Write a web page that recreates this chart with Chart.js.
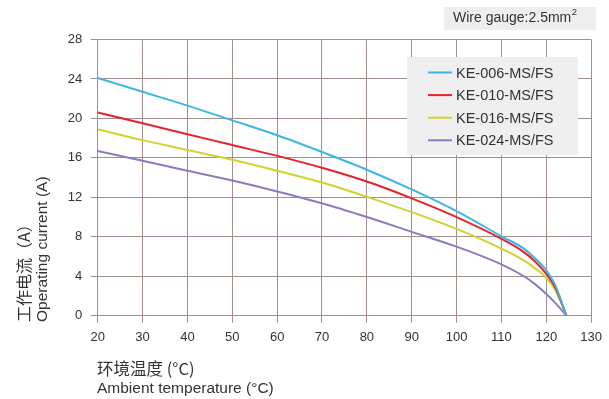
<!DOCTYPE html>
<html><head><meta charset="utf-8">
<script src="https://cdn.jsdelivr.net/npm/chart.js@4.4.0/dist/chart.umd.min.js"></script>
<style>html,body{margin:0;padding:0;background:#fff}#wrap{width:609px;height:399px;position:relative}</style>
</head><body><div id="wrap"><canvas id="c" width="609" height="399"></canvas></div>
<script>
const temps  = [20, 30, 40, 50, 60, 70, 80, 90, 100, 110, 115, 117.5, 120, 122, 124.5];
const ke006  = [24.1, 22.7, 21.3, 19.8, 18.3, 16.6, 14.8, 12.8, 10.6, 8.05, 6.8, 5.8, 4.6, 3.1, 0];
const ke010  = [20.6, 19.5, 18.4, 17.3, 16.2, 15.0, 13.6, 11.9, 10.0, 7.8, 6.45, 5.5, 4.25, 2.85, 0];
const ke016  = [18.9, 17.8, 16.8, 15.8, 14.7, 13.5, 12.05, 10.5, 8.8, 6.8, 5.6, 4.8, 3.85, 2.6, 0];
const ke024  = [16.7, 15.7, 14.7, 13.7, 12.6, 11.4, 10.0, 8.5, 7.0, 5.2, 4.0, 3.2, 2.2, 1.3, 0];
const seriesNames = ['KE-006-MS/FS', 'KE-010-MS/FS', 'KE-016-MS/FS', 'KE-024-MS/FS'];
const seriesColors = ['#3db6e6', '#e8222b', '#d2d22c', '#8a7cc2'];
const xTickLabels = [20, 30, 40, 50, 60, 70, 80, 90, 100, 110, 120, 130];
const yTickLabels = [0, 4, 8, 12, 16, 20, 24, 28];

const allSeries = [ke006, ke010, ke016, ke024];
const datasets = allSeries.map((vals, i) => ({
  label: seriesNames[i],
  data: temps.map((t, j) => ({x: t, y: vals[j]})),
  borderColor: seriesColors[i],
  backgroundColor: seriesColors[i],
  borderWidth: 2,
  pointRadius: 0,
  fill: false,
  cubicInterpolationMode: 'monotone'
}));

const GRID = '#a08f8b';
const TXT = '#333333';
const SANS = '"Liberation Sans", Arial, sans-serif';
const CJK = '"Noto Sans CJK SC", "Liberation Sans", sans-serif';

const decor = {
  id: 'decor',
  afterDatasetsDraw(chart) {
    const ctx = chart.ctx;
    ctx.save();
    // legend box
    ctx.fillStyle = '#efefef';
    ctx.fillRect(407, 57, 171, 98);
    ctx.font = '14.5px ' + SANS;
    ctx.textBaseline = 'middle';
    ctx.textAlign = 'left';
    chart.data.datasets.forEach((ds, i) => {
      const y = 72.5 + i * 22.6;
      ctx.strokeStyle = ds.borderColor;
      ctx.lineWidth = 2;
      ctx.beginPath(); ctx.moveTo(428, y); ctx.lineTo(452, y); ctx.stroke();
      ctx.fillStyle = TXT;
      ctx.fillText(ds.label, 456, y + 1);
    });
    // wire gauge box
    ctx.fillStyle = '#eeeeee';
    ctx.fillRect(444, 7, 152, 23);
    ctx.fillStyle = TXT;
    ctx.font = '14px ' + SANS;
    const main = 'Wire gauge:2.5mm';
    ctx.fillText(main, 453, 18.5);
    const w = ctx.measureText(main).width;
    ctx.font = '9.5px ' + SANS;
    ctx.fillText('2', 453 + w + 0.5, 12.5);
    // x axis titles
    ctx.font = '16.5px ' + CJK;
    ctx.fillText('环境温度 (°C)', 97, 369);
    ctx.font = '15.5px ' + SANS;
    ctx.fillText('Ambient temperature (°C)', 97, 389);
    // y axis titles
    ctx.translate(24, 322);
    ctx.rotate(-Math.PI / 2);
    ctx.font = '16px ' + CJK;
    ctx.fillText('工作电流（A）', 0, 0);
    ctx.font = '15.5px ' + SANS;
    ctx.fillText('Operating current (A)', 0, 19);
    ctx.restore();
  }
};

new Chart(document.getElementById('c'), {
  type: 'line',
  data: {datasets},
  options: {
    responsive: false,
    animation: false,
    devicePixelRatio: 1,
    layout: {padding: {top: 39.5, right: 13.3, left: 0, bottom: 0}},
    plugins: {legend: {display: false}, tooltip: {enabled: false}},
    scales: {
      x: {
        type: 'linear', min: 20, max: 130,
        afterFit(s) { s.height = 83.3; },
        afterBuildTicks(s) { s.ticks = xTickLabels.map(v => ({value: v})); },
        grid: {color: GRID, lineWidth: 1, tickLength: 7, drawTicks: true},
        border: {color: GRID, width: 1},
        ticks: {color: TXT, font: {family: SANS, size: 13}, padding: 7, maxRotation: 0}
      },
      y: {
        type: 'linear', min: 0, max: 28,
        afterFit(s) { s.width = 97.7; },
        afterBuildTicks(s) { s.ticks = yTickLabels.map(v => ({value: v})); },
        grid: {color: GRID, lineWidth: 1, tickLength: 7, drawTicks: true},
        border: {color: GRID, width: 1},
        ticks: {color: TXT, font: {family: SANS, size: 13}, padding: 8.5}
      }
    }
  },
  plugins: [decor]
});
</script>
</body></html>
